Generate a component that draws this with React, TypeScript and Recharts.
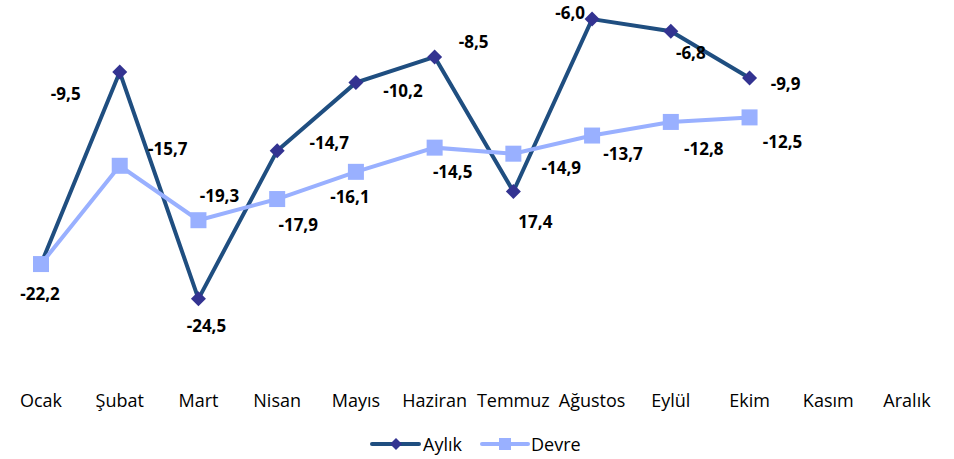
import React from 'react';
import { LineChart, Line, XAxis, YAxis, Legend, LabelList } from 'recharts';

const months = ['Ocak', 'Şubat', 'Mart', 'Nisan', 'Mayıs', 'Haziran', 'Temmuz', 'Ağustos', 'Eylül', 'Ekim', 'Kasım', 'Aralık'];
const aylik = [-22.2, -9.5, -24.5, -14.7, -10.2, -8.5, -17.4, -6.0, -6.8, -9.9, null, null];
const devre = [-22.2, -15.7, -19.3, -17.9, -16.1, -14.5, -14.9, -13.7, -12.8, -12.5, null, null];
const aylikLabels = ['-22,2', '-9,5', '-24,5', '-14,7', '-10,2', '-8,5', '17,4', '-6,0', '-6,8', '-9,9', '', ''];
const devreLabels = ['', '-15,7', '-19,3', '-17,9', '-16,1', '-14,5', '-14,9', '-13,7', '-12,8', '-12,5', '', ''];

// label offsets (layout only)
const aylikOffsets = [[-1, 29], [-54, 21], [8, 27], [52, -8], [47, 8], [39, -15], [22, 30], [-22, -7], [20, 21], [36, 5], [0, 0], [0, 0]];
const devreOffsets = [[0, 0], [48, -17], [21, -25], [21, 25], [-6, 25], [18, 24], [48, 14], [31, 18], [33, 27], [33, 24], [0, 0], [0, 0]];

const data = months.map((m, i) => ({ month: m, aylik: aylik[i], devre: devre[i] }));

const DARK = '#1f4e80';
const DARK_MARK = '#333391';
const LIGHT = '#99b0ff';
const FONT = '"Open Sans", sans-serif';

const Diamond = (props: any) => {
  const { cx, cy, index } = props;
  if (cx == null || cy == null || props.value == null) return <g key={`d${index}`} />;
  const r = 7.5;
  return <polygon key={`d${index}`} points={`${cx},${cy - r} ${cx + r},${cy} ${cx},${cy + r} ${cx - r},${cy}`} fill={DARK_MARK} />;
};

const Square = (props: any) => {
  const { cx, cy, index } = props;
  if (cx == null || cy == null || props.value == null) return <g key={`s${index}`} />;
  const s = 16;
  return <rect key={`s${index}`} x={cx - s / 2} y={cy - s / 2} width={s} height={s} fill={LIGHT} />;
};

const makeLabel = (texts: string[], offsets: number[][]) => (props: any) => {
  const { x, y, index } = props;
  const t = texts[index];
  if (!t || x == null || y == null) return null;
  const [dx, dy] = offsets[index];
  return (
    <text x={x + dx} y={y + dy} textAnchor="middle" dominantBaseline="central" fontFamily={FONT} fontWeight={700} fontSize={17} fill="#000">
      {t}
    </text>
  );
};

const LegendContent = () => (
  <svg width={954} height={30}>
    <g>
      <line x1={372} y1={15} x2={419} y2={15} stroke={DARK} strokeWidth={4} strokeLinecap="round" />
      <polygon points="396,9 402,15 396,21 390,15" fill={DARK_MARK} />
      <text x={423} y={15} dominantBaseline="central" fontFamily={FONT} fontSize={18} fill="#000">Aylık</text>
      <line x1={482} y1={15} x2={528} y2={15} stroke={LIGHT} strokeWidth={4} strokeLinecap="round" />
      <rect x={499} y={9} width={12} height={12} fill={LIGHT} />
      <text x={531} y={15} dominantBaseline="central" fontFamily={FONT} fontSize={18} fill="#000">Devre</text>
    </g>
  </svg>
);

export default function App() {
  return (
    <div style={{ position: 'absolute', left: 0, top: 0, width: 954, height: 459, background: '#fff' }}>
      <LineChart width={954} height={459} data={data} margin={{ top: 4, right: 8, left: 2, bottom: 7 }}>
        <XAxis
          dataKey="month"
          axisLine={false}
          tickLine={false}
          height={40}
          tickMargin={6}
          interval={0}
          padding={{ left: 39, right: 39 }}
          tick={{ fontFamily: FONT, fontSize: 18, fill: '#000' }}
        />
        <YAxis hide domain={[-30, -5]} allowDataOverflow />
        <Legend verticalAlign="bottom" height={30} content={<LegendContent />} wrapperStyle={{ left: 0, bottom: 0, width: 954 }} />
        <Line type="linear" dataKey="aylik" stroke={DARK} strokeWidth={4} dot={Diamond} activeDot={false} isAnimationActive={false} connectNulls={false}>
          <LabelList dataKey="aylik" content={makeLabel(aylikLabels, aylikOffsets)} />
        </Line>
        <Line type="linear" dataKey="devre" stroke={LIGHT} strokeWidth={4} dot={Square} activeDot={false} isAnimationActive={false} connectNulls={false}>
          <LabelList dataKey="devre" content={makeLabel(devreLabels, devreOffsets)} />
        </Line>
      </LineChart>
    </div>
  );
}
